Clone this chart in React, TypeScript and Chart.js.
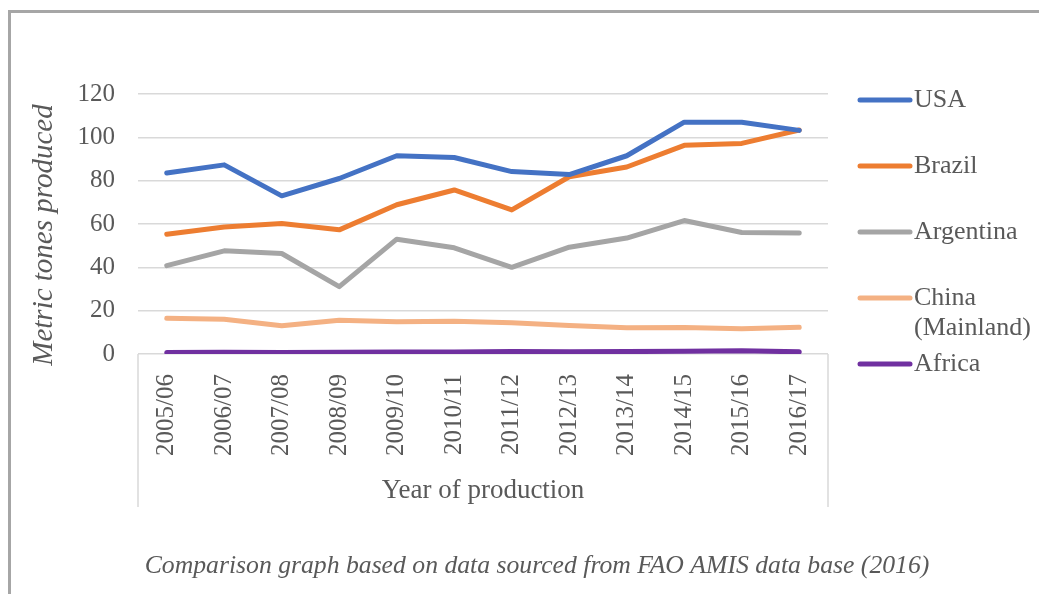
import React, { useEffect, useRef } from "react";
import { Chart, registerables } from "chart.js";

Chart.register(...registerables);

const years = ["2005/06", "2006/07", "2007/08", "2008/09", "2009/10", "2010/11", "2011/12", "2012/13", "2013/14", "2014/15", "2015/16", "2016/17"];
const usa = [83.5, 87.3, 73, 81, 91.5, 90.7, 84.2, 82.8, 91.5, 107, 107, 103.2];
const brazil = [55.3, 58.6, 60.2, 57.3, 68.9, 75.7, 66.5, 81.8, 86.3, 96.3, 97.2, 103.4];
const argentina = [40.8, 47.6, 46.4, 31.1, 53, 49, 40, 49.3, 53.5, 61.6, 56.1, 55.8];
const china = [16.5, 16, 13, 15.6, 14.9, 15.1, 14.4, 13.2, 12.1, 12.2, 11.6, 12.3];
const africa = [0.7, 0.8, 0.7, 0.8, 0.9, 0.9, 1.1, 1.0, 1.1, 1.3, 1.5, 1.0];
const yTicks = [0, 20, 40, 60, 80, 100, 120];

const seriesNames = ["USA", "Brazil", "Argentina", "China\n(Mainland)", "Africa"];
const seriesColors = ["#4472C4", "#ED7D31", "#A5A5A5", "#F4B183", "#7030A0"];
const seriesData = [usa, brazil, argentina, china, africa];
const legendY = [100, 166, 232, 298, 364];

const TEXT = "#595959";
const SERIF = "'Liberation Serif', 'Times New Roman', serif";

const decor = {
  id: "decor",
  afterDraw(chart: any) {
    const ctx = chart.ctx;
    const ca = chart.chartArea;
    ctx.save();
    // outer frame
    ctx.strokeStyle = "#A6A6A6";
    ctx.lineWidth = 3;
    ctx.beginPath();
    ctx.moveTo(9.5, 600);
    ctx.lineTo(9.5, 11.5);
    ctx.lineTo(1045, 11.5);
    ctx.stroke();
    // category axis side lines
    ctx.strokeStyle = "#D9D9D9";
    ctx.lineWidth = 1.5;
    ctx.beginPath();
    ctx.moveTo(ca.left, ca.bottom);
    ctx.lineTo(ca.left, 507);
    ctx.moveTo(ca.right, ca.bottom);
    ctx.lineTo(ca.right, 507);
    ctx.stroke();
    // y title
    ctx.fillStyle = TEXT;
    ctx.font = "italic 29px " + SERIF;
    ctx.textAlign = "center";
    ctx.textBaseline = "middle";
    ctx.save();
    ctx.translate(44, 235);
    ctx.rotate(-Math.PI / 2);
    ctx.fillText("Metric tones produced", 0, 0);
    ctx.restore();
    // x title
    ctx.font = "27px " + SERIF;
    ctx.fillText("Year of production", (ca.left + ca.right) / 2, 491);
    // caption
    ctx.font = "italic 25.7px " + SERIF;
    ctx.fillText("Comparison graph based on data sourced from FAO AMIS data base (2016)", 537, 566);
    // legend
    ctx.textAlign = "left";
    ctx.font = "26px " + SERIF;
    chart.data.datasets.forEach((ds: any, i: number) => {
      const y = legendY[i];
      ctx.strokeStyle = ds.borderColor;
      ctx.lineWidth = 5;
      ctx.lineCap = "round";
      ctx.beginPath();
      ctx.moveTo(860, y);
      ctx.lineTo(910, y);
      ctx.stroke();
      ctx.fillStyle = TEXT;
      const lines = String(ds.label).split("\n");
      lines.forEach((ln, k) => ctx.fillText(ln, 914, y + k * 30));
    });
    ctx.restore();
  },
};

export default function App() {
  const ref = useRef<HTMLCanvasElement>(null);
  useEffect(() => {
    if (!ref.current) return;
    const chart = new Chart(ref.current, {
      type: "line",
      data: {
        labels: years,
        datasets: seriesData.map((d, i) => ({
          label: seriesNames[i],
          data: d,
          borderColor: seriesColors[i],
          backgroundColor: seriesColors[i],
          borderWidth: 5,
          pointRadius: 0,
          borderCapStyle: "round",
          borderJoinStyle: "round",
          tension: 0,
        })),
      },
      options: {
        animation: false,
        responsive: false,
        layout: { padding: { left: 0, top: 94, right: 211, bottom: 80 } },
        plugins: { legend: { display: false }, tooltip: { enabled: false } },
        scales: {
          x: {
            offset: true,
            grid: { display: false },
            border: { display: false },
            ticks: {
              color: TEXT,
              font: { family: SERIF, size: 25 },
              minRotation: 90,
              maxRotation: 90,
              padding: 12,
              autoSkip: false,
            },
            afterFit: (s: any) => {
              s.height = 160;
            },
          },
          y: {
            min: 0,
            max: 120,
            afterBuildTicks: (s: any) => {
              s.ticks = yTicks.map((v) => ({ value: v }));
            },
            grid: { color: "#D9D9D9", lineWidth: 1.5, drawTicks: false },
            border: { display: false },
            ticks: {
              color: TEXT,
              font: { family: SERIF, size: 25 },
              padding: 23,
            },
            afterFit: (s: any) => {
              s.width = 138;
            },
          },
        },
      },
      plugins: [decor],
    });
    return () => chart.destroy();
  }, []);
  return (
    <div style={{ position: "absolute", left: 0, top: 0, width: 1039, height: 594, background: "#fff" }}>
      <canvas ref={ref} width={1039} height={594} style={{ display: "block" }} />
    </div>
  );
}
